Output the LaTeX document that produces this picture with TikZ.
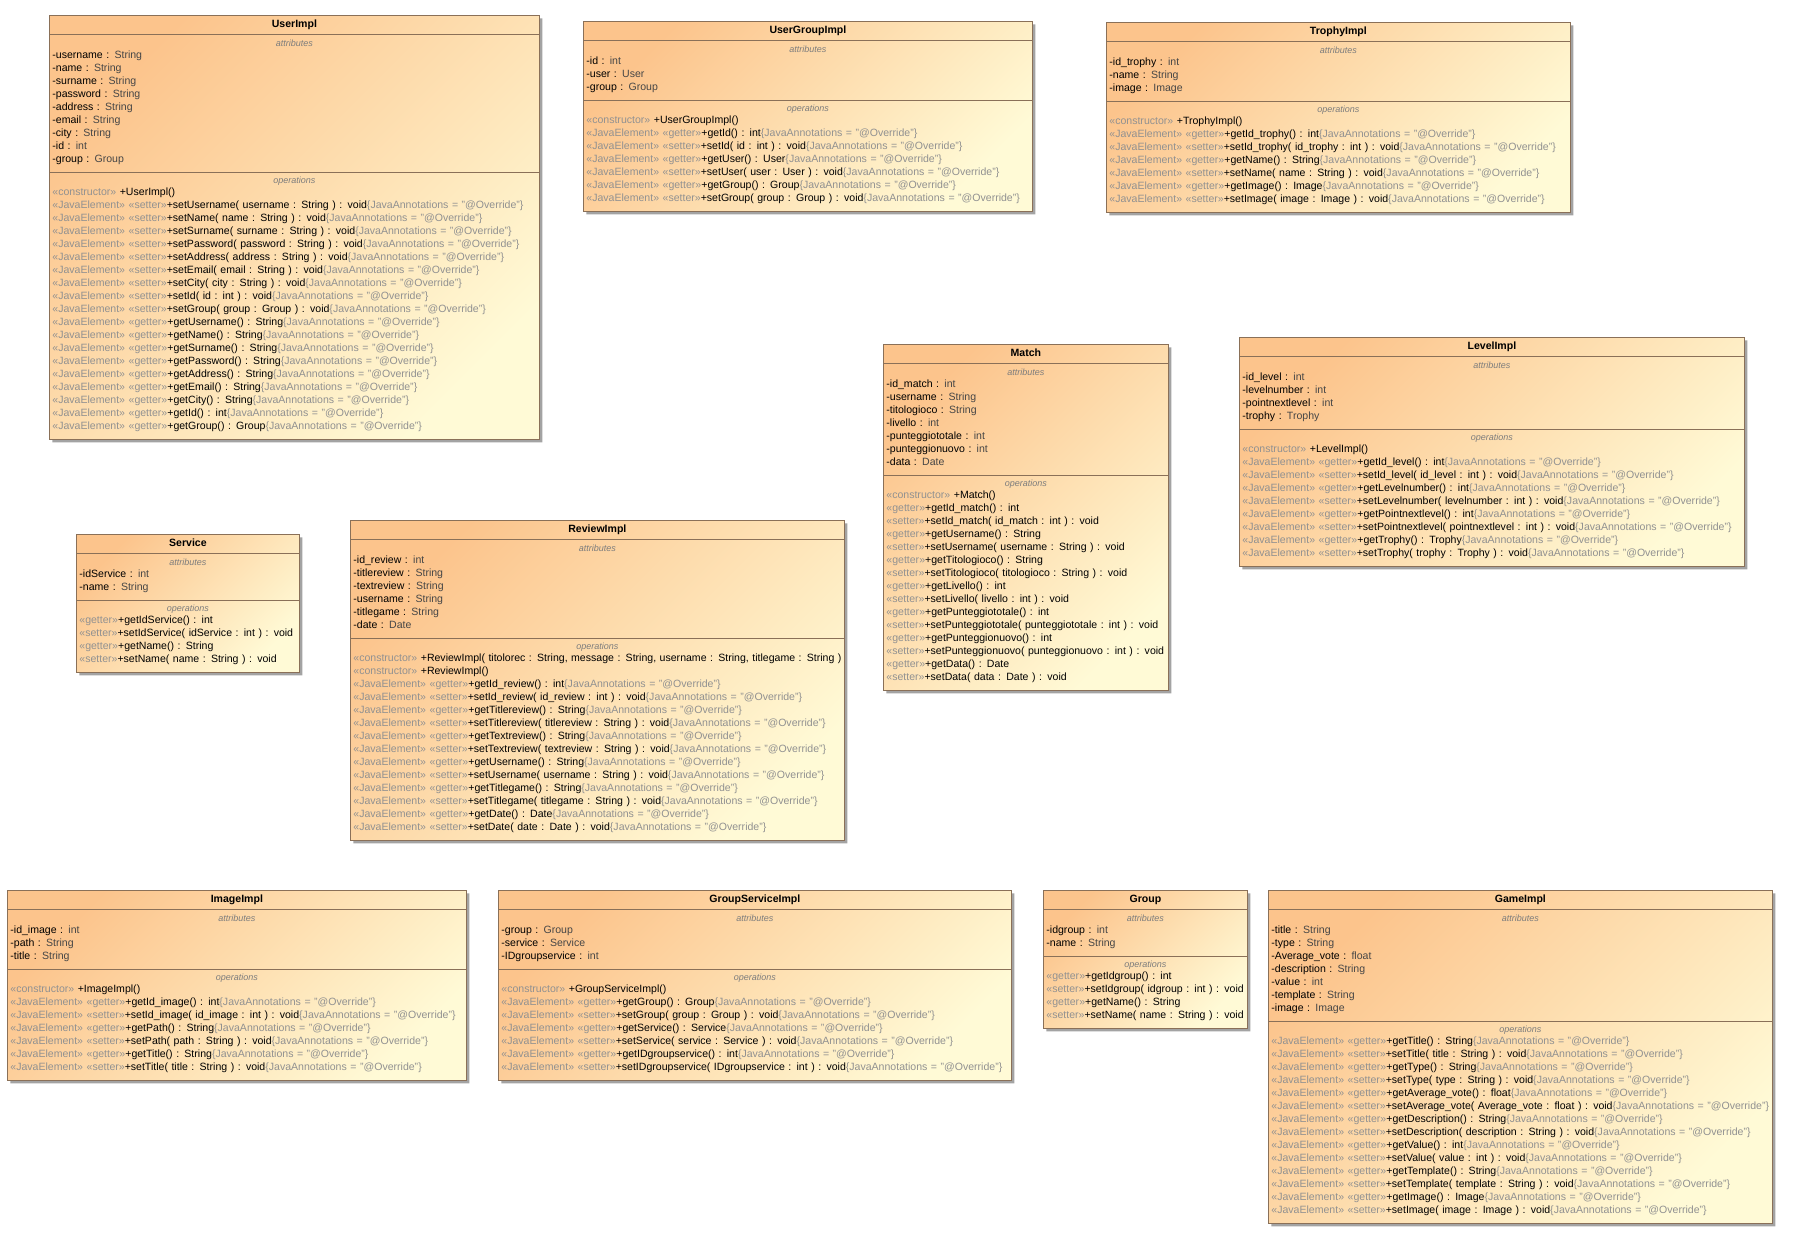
\documentclass[tikz,border=0pt]{standalone}
\usepackage{fontspec}
\setmainfont{Liberation Sans}
\usepackage{tikz}
\usetikzlibrary{shapes.multipart, shadows}
\definecolor{umlPeach}{RGB}{252,196,140}
\definecolor{umlCream}{RGB}{255,250,214}
\definecolor{umlBorder}{RGB}{138,112,88}
\definecolor{stereoGray}{RGB}{145,145,145}
\definecolor{headGray}{RGB}{125,125,125}
\definecolor{typeGray}{RGB}{70,70,70}

% one text row of a compartment
\newcommand{\row}[1]{\mbox{\rule[-3.6pt]{0pt}{13pt}#1}}
\newcommand{\classname}[1]{\makebox[\linewidth]{\rule[-4pt]{0pt}{13pt}\bfseries #1}}
\newcommand{\comphead}[1]{\makebox[\linewidth]{\rule{0pt}{8.5pt}\fontsize{9}{9}\selectfont\itshape\color{headGray}#1}}
\newcommand{\attrblock}[1]{\comphead{attributes}\\[-1pt]#1\rule[-6.4pt]{0pt}{0pt}}
\newcommand{\opblock}[1]{\comphead{operations}\\[-1pt]#1\rule[-6.4pt]{0pt}{0pt}}
\newcommand{\attr}[2]{\row{-#1 : \textcolor{typeGray}{#2}}}
\newcommand{\stereo}[1]{\textcolor{stereoGray}{«#1»}}
\newcommand{\ovr}{\textcolor{stereoGray}{\{JavaAnnotations = "@Override"\}}}
\newcommand{\ctor}[1]{\row{\stereo{constructor} +#1}}
\newcommand{\jget}[1]{\row{\stereo{JavaElement} \stereo{getter}+#1\ovr}}
\newcommand{\jset}[1]{\row{\stereo{JavaElement} \stereo{setter}+#1\ovr}}
\newcommand{\pget}[1]{\row{\stereo{getter}+#1}}
\newcommand{\pset}[1]{\row{\stereo{setter}+#1}}

\tikzset{
  classbox/.style={rectangle split, rectangle split parts=3, anchor=north west,
    draw=umlBorder, line width=0.8pt,
    top color=umlPeach, bottom color=umlCream, shading angle=45,
    drop shadow={shadow xshift=3pt, shadow yshift=-3pt, fill=black!45, opacity=0.8},
    inner xsep=3pt, inner ysep=2.8pt, align=left,
    font=\fontsize{10.55}{13}\selectfont}
}

\begin{document}
\begin{tikzpicture}[x=1pt, y=-1pt]
  \fill[white] (0,0) rectangle (1807,1239);
  \useasboundingbox (0,0) rectangle (1807,1239);

  % top row
  \node[classbox, text width=484pt] (userImpl) at (49,15) {\classname{UserImpl}
    \nodepart{two}\attrblock{\attr{username}{String}\\ \attr{name}{String}\\ \attr{surname}{String}\\
      \attr{password}{String}\\ \attr{address}{String}\\ \attr{email}{String}\\ \attr{city}{String}\\
      \attr{id}{int}\\ \attr{group}{Group}}
    \nodepart{three}\opblock{\ctor{UserImpl()}\\
      \jset{setUsername( username : String ) : void}\\
      \jset{setName( name : String ) : void}\\
      \jset{setSurname( surname : String ) : void}\\
      \jset{setPassword( password : String ) : void}\\
      \jset{setAddress( address : String ) : void}\\
      \jset{setEmail( email : String ) : void}\\
      \jset{setCity( city : String ) : void}\\
      \jset{setId( id : int ) : void}\\
      \jset{setGroup( group : Group ) : void}\\
      \jget{getUsername() : String}\\
      \jget{getName() : String}\\
      \jget{getSurname() : String}\\
      \jget{getPassword() : String}\\
      \jget{getAddress() : String}\\
      \jget{getEmail() : String}\\
      \jget{getCity() : String}\\
      \jget{getId() : int}\\
      \jget{getGroup() : Group}}};

  \node[classbox, text width=443pt] (userGroupImpl) at (583,21) {\classname{UserGroupImpl}
    \nodepart{two}\attrblock{\attr{id}{int}\\ \attr{user}{User}\\ \attr{group}{Group}}
    \nodepart{three}\opblock{\ctor{UserGroupImpl()}\\
      \jget{getId() : int}\\
      \jset{setId( id : int ) : void}\\
      \jget{getUser() : User}\\
      \jset{setUser( user : User ) : void}\\
      \jget{getGroup() : Group}\\
      \jset{setGroup( group : Group ) : void}}};

  \node[classbox, text width=458pt] (trophyImpl) at (1106,22) {\classname{TrophyImpl}
    \nodepart{two}\attrblock{\attr{id\_trophy}{int}\\ \attr{name}{String}\\ \attr{image}{Image}}
    \nodepart{three}\opblock{\ctor{TrophyImpl()}\\
      \jget{getId\_trophy() : int}\\
      \jset{setId\_trophy( id\_trophy : int ) : void}\\
      \jget{getName() : String}\\
      \jset{setName( name : String ) : void}\\
      \jget{getImage() : Image}\\
      \jset{setImage( image : Image ) : void}}};

  % middle row
  \node[classbox, text width=279pt] (match) at (883,344) {\classname{Match}
    \nodepart{two}\attrblock{\attr{id\_match}{int}\\ \attr{username}{String}\\ \attr{titologioco}{String}\\
      \attr{livello}{int}\\ \attr{punteggiototale}{int}\\ \attr{punteggionuovo}{int}\\ \attr{data}{Date}}
    \nodepart{three}\opblock{\ctor{Match()}\\
      \pget{getId\_match() : int}\\
      \pset{setId\_match( id\_match : int ) : void}\\
      \pget{getUsername() : String}\\
      \pset{setUsername( username : String ) : void}\\
      \pget{getTitologioco() : String}\\
      \pset{setTitologioco( titologioco : String ) : void}\\
      \pget{getLivello() : int}\\
      \pset{setLivello( livello : int ) : void}\\
      \pget{getPunteggiototale() : int}\\
      \pset{setPunteggiototale( punteggiototale : int ) : void}\\
      \pget{getPunteggionuovo() : int}\\
      \pset{setPunteggionuovo( punteggionuovo : int ) : void}\\
      \pget{getData() : Date}\\
      \pset{setData( data : Date ) : void}}};

  \node[classbox, text width=499pt] (levelImpl) at (1239,337) {\classname{LevelImpl}
    \nodepart{two}\attrblock{\attr{id\_level}{int}\\ \attr{levelnumber}{int}\\ \attr{pointnextlevel}{int}\\
      \attr{trophy}{Trophy}}
    \nodepart{three}\opblock{\ctor{LevelImpl()}\\
      \jget{getId\_level() : int}\\
      \jset{setId\_level( id\_level : int ) : void}\\
      \jget{getLevelnumber() : int}\\
      \jset{setLevelnumber( levelnumber : int ) : void}\\
      \jget{getPointnextlevel() : int}\\
      \jset{setPointnextlevel( pointnextlevel : int ) : void}\\
      \jget{getTrophy() : Trophy}\\
      \jset{setTrophy( trophy : Trophy ) : void}}};

  \node[classbox, text width=217pt] (service) at (76,534) {\classname{Service}
    \nodepart{two}\attrblock{\attr{idService}{int}\\ \attr{name}{String}}
    \nodepart{three}\opblock{\pget{getIdService() : int}\\
      \pset{setIdService( idService : int ) : void}\\
      \pget{getName() : String}\\
      \pset{setName( name : String ) : void}}};

  \node[classbox, text width=488pt] (reviewImpl) at (350,520) {\classname{ReviewImpl}
    \nodepart{two}\attrblock{\attr{id\_review}{int}\\ \attr{titlereview}{String}\\ \attr{textreview}{String}\\
      \attr{username}{String}\\ \attr{titlegame}{String}\\ \attr{date}{Date}}
    \nodepart{three}\opblock{\ctor{ReviewImpl( titolorec : String, message : String, username : String, titlegame : String )}\\
      \ctor{ReviewImpl()}\\
      \jget{getId\_review() : int}\\
      \jset{setId\_review( id\_review : int ) : void}\\
      \jget{getTitlereview() : String}\\
      \jset{setTitlereview( titlereview : String ) : void}\\
      \jget{getTextreview() : String}\\
      \jset{setTextreview( textreview : String ) : void}\\
      \jget{getUsername() : String}\\
      \jset{setUsername( username : String ) : void}\\
      \jget{getTitlegame() : String}\\
      \jset{setTitlegame( titlegame : String ) : void}\\
      \jget{getDate() : Date}\\
      \jset{setDate( date : Date ) : void}}};

  % bottom row
  \node[classbox, text width=453pt] (imageImpl) at (7,890) {\classname{ImageImpl}
    \nodepart{two}\attrblock{\attr{id\_image}{int}\\ \attr{path}{String}\\ \attr{title}{String}}
    \nodepart{three}\opblock{\ctor{ImageImpl()}\\
      \jget{getId\_image() : int}\\
      \jset{setId\_image( id\_image : int ) : void}\\
      \jget{getPath() : String}\\
      \jset{setPath( path : String ) : void}\\
      \jget{getTitle() : String}\\
      \jset{setTitle( title : String ) : void}}};

  \node[classbox, text width=507pt] (groupServiceImpl) at (498,890) {\classname{GroupServiceImpl}
    \nodepart{two}\attrblock{\attr{group}{Group}\\ \attr{service}{Service}\\ \attr{IDgroupservice}{int}}
    \nodepart{three}\opblock{\ctor{GroupServiceImpl()}\\
      \jget{getGroup() : Group}\\
      \jset{setGroup( group : Group ) : void}\\
      \jget{getService() : Service}\\
      \jset{setService( service : Service ) : void}\\
      \jget{getIDgroupservice() : int}\\
      \jset{setIDgroupservice( IDgroupservice : int ) : void}}};

  \node[classbox, text width=198pt] (group) at (1043,890) {\classname{Group}
    \nodepart{two}\attrblock{\attr{idgroup}{int}\\ \attr{name}{String}}
    \nodepart{three}\opblock{\pget{getIdgroup() : int}\\
      \pset{setIdgroup( idgroup : int ) : void}\\
      \pget{getName() : String}\\
      \pset{setName( name : String ) : void}}};

  \node[classbox, text width=498pt] (gameImpl) at (1268,890) {\classname{GameImpl}
    \nodepart{two}\attrblock{\attr{title}{String}\\ \attr{type}{String}\\ \attr{Average\_vote}{float}\\
      \attr{description}{String}\\ \attr{value}{int}\\ \attr{template}{String}\\ \attr{image}{Image}}
    \nodepart{three}\opblock{\jget{getTitle() : String}\\
      \jset{setTitle( title : String ) : void}\\
      \jget{getType() : String}\\
      \jset{setType( type : String ) : void}\\
      \jget{getAverage\_vote() : float}\\
      \jset{setAverage\_vote( Average\_vote : float ) : void}\\
      \jget{getDescription() : String}\\
      \jset{setDescription( description : String ) : void}\\
      \jget{getValue() : int}\\
      \jset{setValue( value : int ) : void}\\
      \jget{getTemplate() : String}\\
      \jset{setTemplate( template : String ) : void}\\
      \jget{getImage() : Image}\\
      \jset{setImage( image : Image ) : void}}};
\end{tikzpicture}
\end{document}
